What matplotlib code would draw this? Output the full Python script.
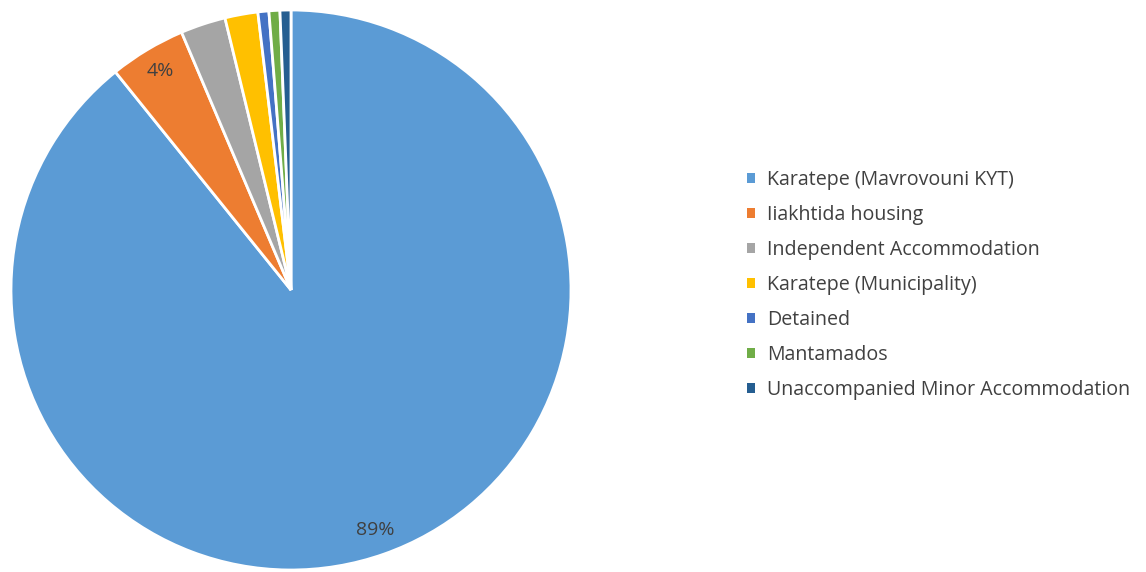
import matplotlib
matplotlib.use("Agg")
import matplotlib.pyplot as plt
from matplotlib.patches import Patch

categories = ["Karatepe (Mavrovouni KYT)", "Iiakhtida housing", "Independent Accommodation",
              "Karatepe (Municipality)", "Detained", "Mantamados", "Unaccompanied Minor Accommodation"]
values = [89.2, 4.4, 2.6, 1.9, 0.63, 0.63, 0.63]
colors = ["#5B9BD5", "#ED7D31", "#A5A5A5", "#FFC000", "#4472C4", "#70AD47", "#255E91"]
shown_labels = {"Karatepe (Mavrovouni KYT)", "Iiakhtida housing"}

plt.rcParams['font.family'] = ['Open Sans', 'DejaVu Sans']

W, H = 1146, 572
fig = plt.figure(figsize=(W / 100, H / 100), dpi=100)
ax = fig.add_axes([11 / W, 2 / H, 560 / W, 560 / H])

labels_iter = iter(categories)

def fmt(p):
    name = next(labels_iter)
    return f"{p:.0f}%" if name in shown_labels else ""

wedges, texts, autotexts = ax.pie(values, colors=colors, startangle=90, counterclock=False,
                                  autopct=fmt, pctdistance=0.91,
                                  wedgeprops=dict(edgecolor="white", linewidth=2),
                                  textprops=dict(color="#404040", fontsize=14))
ax.set_aspect("equal")
ax.set_xlim(-1, 1)
ax.set_ylim(-1, 1)
ax.axis("off")

handles = [Patch(facecolor=c, edgecolor="none") for c in colors]
fig.legend(handles, categories, loc="upper left", bbox_to_anchor=(747 / W, 1 - 170 / H),
           frameon=False, fontsize=14.15, handlelength=0.42, handleheight=0.42,
           handletextpad=0.6, labelspacing=0.76, labelcolor="#404040", borderaxespad=0,
           borderpad=0)

fig.savefig("out.png", dpi=100)
